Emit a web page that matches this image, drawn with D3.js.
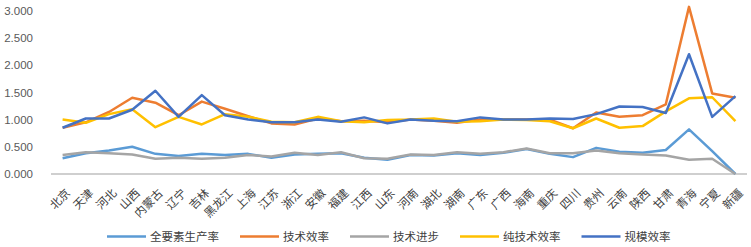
<!DOCTYPE html>
<html><head><meta charset="utf-8">
<script src="https://cdn.jsdelivr.net/npm/d3@7"></script>
<style>html,body{margin:0;padding:0;background:#fff;}</style>
</head><body>
<svg id="chart" width="751" height="247"></svg>
<script>
const categories = ["北京","天津","河北","山西","内蒙古","辽宁","吉林","黑龙江","上海","江苏","浙江","安徽","福建","江西","山东","河南","湖北","湖南","广东","广西","海南","重庆","四川","贵州","云南","陕西","甘肃","青海","宁夏","新疆"];
const tfp = [0.29,0.38,0.43,0.50,0.37,0.33,0.37,0.35,0.37,0.30,0.36,0.37,0.38,0.30,0.26,0.35,0.34,0.38,0.35,0.39,0.46,0.37,0.31,0.48,0.41,0.39,0.44,0.82,0.42,0.00];
const techEff = [0.85,0.95,1.14,1.40,1.31,1.08,1.33,1.20,1.06,0.93,0.91,1.02,0.97,0.98,0.95,1.00,0.98,0.94,1.00,1.00,1.00,1.00,0.84,1.13,1.05,1.08,1.28,3.07,1.48,1.40];
const techProg = [0.35,0.40,0.38,0.36,0.28,0.30,0.28,0.30,0.35,0.32,0.39,0.35,0.40,0.29,0.28,0.36,0.35,0.40,0.37,0.40,0.47,0.38,0.38,0.43,0.38,0.36,0.34,0.26,0.28,0.00];
const pureTechEff = [1.00,0.94,1.10,1.19,0.86,1.05,0.91,1.10,1.05,0.96,0.95,1.05,0.97,0.95,0.99,1.00,1.02,0.96,0.97,1.00,0.99,0.97,0.84,1.02,0.85,0.88,1.15,1.39,1.41,0.97];
const scaleEff = [0.85,1.02,1.02,1.18,1.53,1.05,1.45,1.08,1.00,0.95,0.95,1.00,0.96,1.04,0.93,1.00,0.98,0.97,1.04,1.00,1.00,1.02,1.01,1.10,1.24,1.23,1.12,2.20,1.05,1.43];
const seriesNames = ["全要素生产率","技术效率","技术进步","纯技术效率","规模效率"];
const seriesColors = ["#5B9BD5","#ED7D31","#A5A5A5","#FFC000","#4472C4"];
const yTicks = [0,0.5,1,1.5,2,2.5,3];

const series = [tfp, techEff, techProg, pureTechEff, scaleEff];
const svg = d3.select("#chart");
const x = d3.scalePoint().domain(categories).range([51, 747]).padding(0.5);
const y = d3.scaleLinear().domain([0,3]).range([174, 10.7]);

// y labels
const yAxis = d3.axisLeft(y).tickValues(yTicks).tickFormat(d3.format(".3f")).tickSize(0).tickPadding(0);
const gy = svg.append("g").attr("transform","translate(33,0)").call(yAxis);
gy.select(".domain").remove();
gy.selectAll("text").attr("fill","#595959").style("font-family","'Liberation Sans',Arial,sans-serif").style("font-size","11.5px");

// x axis
const xAxis = d3.axisBottom(x).tickSize(0).tickPadding(0);
const gx = svg.append("g").attr("transform","translate(0,174)").call(xAxis);
gx.select(".domain").attr("stroke","#BFBFBF").attr("stroke-width",1.3).attr("d","M51,0H747");
gx.selectAll("text")
  .attr("fill","#404040")
  .style("font-family","'Noto Sans CJK SC',sans-serif")
  .style("font-size","11.5px")
  .attr("text-anchor","end")
  .attr("dy","0.35em")
  .attr("y",0)
  .attr("transform","translate(5,17) rotate(-45)");

// lines
const line = d3.line().x((d,i)=>x(categories[i])).y(d=>y(d));
series.forEach((s,k)=>{
  svg.append("path").datum(s).attr("d",line)
    .attr("fill","none").attr("stroke",seriesColors[k]).attr("stroke-width",2.5)
    .attr("stroke-linejoin","round");
});

// legend
const lg = svg.append("g").attr("transform","translate(0,236.5)");
let cx = 107;
seriesNames.forEach((n,k)=>{
  lg.append("line").attr("x1",cx).attr("x2",cx+39).attr("y1",0).attr("y2",0)
    .attr("stroke",seriesColors[k]).attr("stroke-width",2.5);
  const t = lg.append("text").attr("x",cx+43).attr("y",0).attr("dy","0.35em")
    .attr("fill","#404040").style("font-family","'Noto Sans CJK SC',sans-serif").style("font-size","11.5px").text(n);
  cx += 43 + t.node().getComputedTextLength() + 21;
});
</script>
</body></html>
